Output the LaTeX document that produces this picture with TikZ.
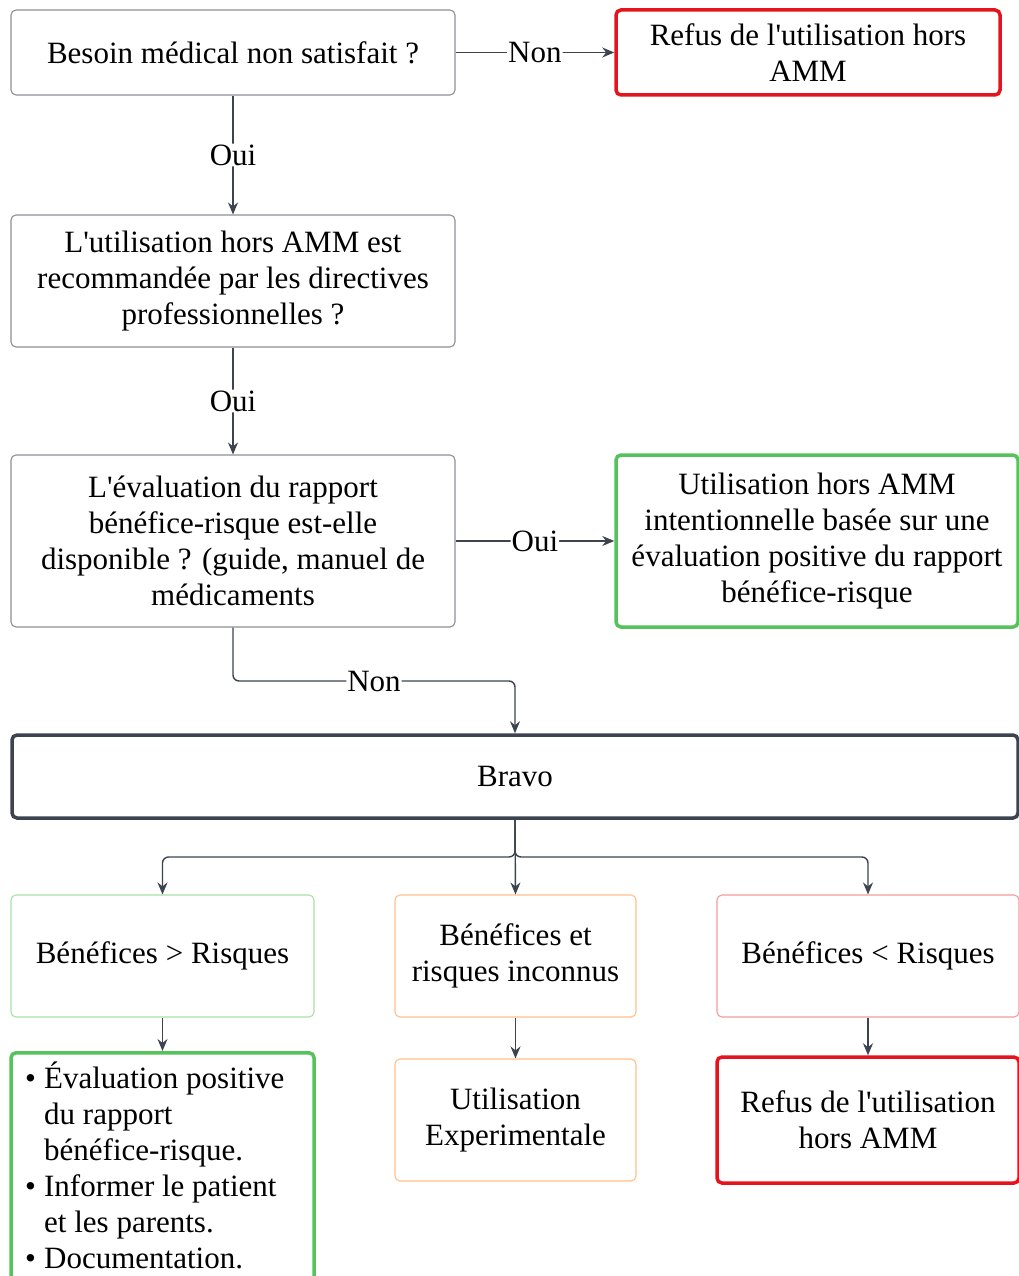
\documentclass[tikz,border=0pt]{standalone}
\usepackage{fontspec}
\setmainfont{Liberation Serif}
\usetikzlibrary{arrows.meta}
\definecolor{inkc}{HTML}{3D4450}
\definecolor{greyb}{HTML}{8C9099}
\definecolor{redb}{HTML}{E5141C}
\definecolor{greenb}{HTML}{55C25B}
\definecolor{lgreen}{HTML}{A6E2A6}
\definecolor{lorange}{HTML}{FFC08C}
\definecolor{lred}{HTML}{F39C9C}
\newcommand{\bul}{\makebox[19pt][l]{•}}
\newcommand{\ind}{\hspace*{19pt}}
\newcommand{\ap}{\textquotesingle}
\begin{document}
\begin{tikzpicture}[x=1pt,y=-1pt,
  font=\fontsize{31}{36}\selectfont,
  box/.style={draw=greyb, line width=1.1pt, rounded corners=5pt, align=center, inner sep=0pt},
  redbox/.style={box, draw=redb, line width=3.5pt},
  greenbox/.style={box, draw=greenb, line width=3.5pt},
  bravobox/.style={box, draw=inkc, line width=3.5pt},
  gbox/.style={box, draw=lgreen},
  obox/.style={box, draw=lorange},
  rbox/.style={box, draw=lred},
  conn/.style={draw=inkc, line width=1.4pt, -{Stealth[length=12pt,width=10pt]}, rounded corners=6pt},
  lbl/.style={fill=white, inner sep=1pt, text=black}]
\clip (0,0) rectangle (1019,1276);
\fill[white] (0,0) rectangle (1019,1276);

% decision chain
\node[box, minimum width=444, minimum height=85] (q1) at (233,52.5) {Besoin médical non satisfait ?};
\node[redbox, minimum width=384, minimum height=85] (r1) at (808,52.5) {Refus de l\ap utilisation hors\\AMM};
\node[box, minimum width=444, minimum height=132] (q2) at (233,281) {L\ap utilisation hors AMM est\\recommandée par les directives\\professionnelles ?};
\node[box, minimum width=444, minimum height=172] (q3) at (233,541) {L\ap évaluation du rapport\\bénéfice-risque est-elle\\disponible ? (guide, manuel de\\médicaments};
\node[greenbox, minimum width=402, minimum height=172] (g1) at (817,541) {Utilisation hors AMM\\intentionnelle basée sur une\\évaluation positive du rapport\\bénéfice-risque};

% central box
\node[bravobox, minimum width=1006, minimum height=83] (bravo) at (515,776.5) {Bravo};

% three outcomes
\node[gbox, minimum width=303, minimum height=122] (o1) at (162.5,956) {Bénéfices > Risques};
\node[obox, minimum width=241, minimum height=122] (o2) at (515.5,956) {Bénéfices et\\risques inconnus};
\node[rbox, minimum width=302, minimum height=122] (o3) at (868,956) {Bénéfices < Risques};

% consequences
\node[greenbox, minimum width=303, minimum height=250, anchor=north] (c1) at (162.5,1051) {};
\node[align=left, anchor=north west, inner sep=0pt] (c1t) at (25,1062)
  {\bul Évaluation positive\\\ind du rapport\\\ind bénéfice-risque.\\\bul Informer le patient\\\ind et les parents.\\\bul Documentation.};
\node[obox, minimum width=241, minimum height=122] (c2) at (515.5,1120) {Utilisation\\Experimentale};
\node[redbox, minimum width=302, minimum height=126] (c3) at (868,1120) {Refus de l\ap utilisation\\hors AMM};

% connectors
\draw[conn] (q1) -- node[lbl]{Non} (r1);
\draw[conn] (q1) -- node[lbl]{Oui} (q2);
\draw[conn] (q2) -- node[lbl]{Oui} (q3);
\draw[conn] (q3) -- node[lbl]{Oui} (g1);
\coordinate (nturn) at (515,681);
\draw[conn] (q3.south) |- node[lbl, pos=0.75]{Non} (nturn) -- (bravo.north);
\coordinate (fan) at (515,857);
\draw[conn] (bravo.south) -- (fan) -| (o1.north);
\draw[conn] (bravo.south) -- (fan) -| (o3.north);
\draw[conn] (bravo.south) -- (o2.north);
\draw[conn] (o1) -- (c1);
\draw[conn] (o2) -- (c2);
\draw[conn] (o3) -- (c3);
\end{tikzpicture}
\end{document}
